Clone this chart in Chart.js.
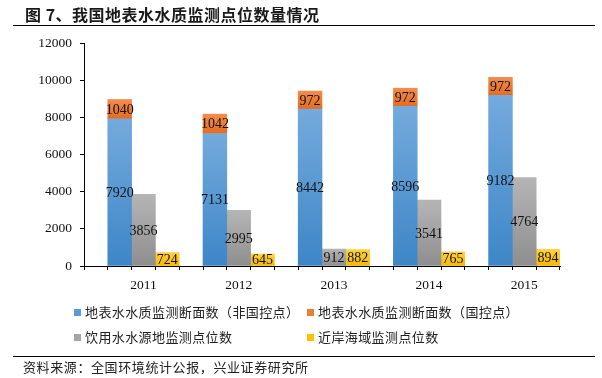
<!DOCTYPE html>
<html>
<head>
<meta charset="utf-8">
<script src="https://cdn.jsdelivr.net/npm/chart.js@4.4.1/dist/chart.umd.min.js"></script>
<style>
  body { margin: 0; background: #fff; }
  #wrap { position: relative; width: 602px; height: 378px; overflow: hidden; font-family: "Noto Sans CJK SC", sans-serif; }
  #chart { position: absolute; left: 0; top: 0; }
  .title { position: absolute; left: 25px; top: 5px; font-size: 16px; line-height: 18px; font-weight: bold; letter-spacing: 0.5px; color: #1a1a1a; white-space: nowrap; }
  .rule { position: absolute; left: 13px; width: 582px; height: 1.5px; background: #000; }
  .legendItem { position: absolute; font-size: 13px; line-height: 16px; letter-spacing: 0.4px; color: #222; white-space: nowrap; }
  .legendItem span { position: absolute; left: -11px; top: 5px; width: 7px; height: 7px; }
  .source { position: absolute; left: 23px; top: 359px; font-size: 13px; line-height: 16px; letter-spacing: 0.6px; color: #222; white-space: nowrap; }
</style>
</head>
<body>
<div id="wrap">
  <canvas id="chart" width="602" height="378"></canvas>
  <div class="title">图 7、我国地表水水质监测点位数量情况</div>
  <div class="rule" style="top:24.5px"></div>
  <div id="legend"></div>
  <div class="rule" style="top:355.5px"></div>
  <div class="source">资料来源：全国环境统计公报，兴业证券研究所</div>
</div>
<script>
'use strict';

// data
const years = ['2011', '2012', '2013', '2014', '2015'];
const surfaceNonNational = [7920, 7131, 8442, 8596, 9182];
const surfaceNational = [1040, 1042, 972, 972, 972];
const drinkingWater = [3856, 2995, 912, 3541, 4764];
const coastalSea = [724, 645, 882, 765, 894];
const yTicks = [0, 2000, 4000, 6000, 8000, 10000, 12000];

const seriesNames = [
  '地表水水质监测断面数（非国控点）',
  '地表水水质监测断面数（国控点）',
  '饮用水水源地监测点位数',
  '近岸海域监测点位数'
];

// each year takes 4 slots on the x axis: empty, surface, drinking, coastal
const slotsPerYear = 4;

function spread(values, slot) {
  let out = [];
  for (let i = 0; i < values.length * slotsPerYear; i++) out.push(null);
  for (let i = 0; i < values.length; i++) out[i * slotsPerYear + slot] = values[i];
  return out;
}

function buildLabels() {
  let out = [];
  for (let year of years) out.push('', '', year, '');
  return out;
}

// vertical gradient per bar, from its top to its bottom
function makeFill(topColor, bottomColor, below) {
  return function (ctx) {
    const chart = ctx.chart;
    const y = chart.scales.y;
    if (!y || ctx.type !== 'data' || ctx.raw == null) return bottomColor;
    const base = below ? (below[ctx.dataIndex] || 0) : 0;
    const top = y.getPixelForValue(base + ctx.raw);
    const bottom = y.getPixelForValue(base);
    if (!isFinite(top) || !isFinite(bottom) || top === bottom) return bottomColor;
    const g = chart.ctx.createLinearGradient(0, top, 0, bottom);
    g.addColorStop(0, topColor);
    g.addColorStop(1, bottomColor);
    return g;
  };
}

const blueData = spread(surfaceNonNational, 1);
const orangeData = spread(surfaceNational, 1);
const greyData = spread(drinkingWater, 2);
const yellowData = spread(coastalSea, 3);

const swatches = ['#5b9bd5', '#ed7d31', '#a5a5a5', '#ffc000'];

// value labels in the middle of each bar
const barLabels = {
  id: 'barLabels',
  afterDatasetsDraw(chart) {
    const ctx = chart.ctx;
    ctx.save();
    ctx.font = '14px "Liberation Serif", serif';
    ctx.fillStyle = '#111';
    ctx.textAlign = 'center';
    ctx.textBaseline = 'middle';
    chart.data.datasets.forEach(function (ds, i) {
      const meta = chart.getDatasetMeta(i);
      meta.data.forEach(function (bar, j) {
        const v = ds.data[j];
        if (v == null) return;
        ctx.fillText(String(v), bar.x, (bar.y + bar.base) / 2 + 1);
      });
    });
    ctx.restore();
  }
};

const tickFont = { family: '"Liberation Serif", serif', size: 13.5 };

new Chart(document.getElementById('chart'), {
  type: 'bar',
  data: {
    labels: buildLabels(),
    datasets: [
      { label: seriesNames[0], data: blueData, backgroundColor: makeFill('#74aadd', '#3d86c7', null) },
      { label: seriesNames[1], data: orangeData, backgroundColor: makeFill('#f28c4f', '#e56c1f', blueData) },
      { label: seriesNames[2], data: greyData, backgroundColor: makeFill('#b5b5b5', '#8e8e8e', null) },
      { label: seriesNames[3], data: yellowData, backgroundColor: makeFill('#ffd23f', '#f5b800', null) }
    ]
  },
  options: {
    responsive: false,
    animation: false,
    devicePixelRatio: 1,
    barPercentage: 1,
    categoryPercentage: 1,
    layout: { padding: { left: 0, right: 42, top: 43, bottom: 82 } },
    plugins: {
      legend: { display: false },
      tooltip: { enabled: false }
    },
    scales: {
      x: {
        stacked: true,
        offset: true,
        afterFit(scale) { scale.height = 30; },
        grid: { offset: true, drawOnChartArea: false, drawTicks: true, tickLength: 4, color: '#000' },
        border: { display: true, color: '#000', width: 1 },
        ticks: { autoSkip: false, maxRotation: 0, minRotation: 0, padding: 7, color: '#111', font: tickFont }
      },
      y: {
        stacked: true,
        min: 0,
        max: yTicks[yTicks.length - 1],
        afterFit(scale) { scale.width = 84; },
        afterBuildTicks(scale) { scale.ticks = yTicks.map(v => ({ value: v })); },
        grid: { drawOnChartArea: false, drawTicks: true, tickLength: 4, color: '#000' },
        border: { display: true, color: '#000', width: 1 },
        ticks: { padding: 8, color: '#111', font: tickFont, callback: v => String(v) }
      }
    }
  },
  plugins: [barLabels]
});

// legend in two aligned columns
const legendElem = document.getElementById('legend');
const legendPos = [[85, 304], [318, 304], [85, 329], [318, 329]];
seriesNames.forEach(function (name, i) {
  let item = document.createElement('div');
  item.className = 'legendItem';
  item.style.left = legendPos[i][0] + 'px';
  item.style.top = legendPos[i][1] + 'px';
  item.textContent = name;
  let box = document.createElement('span');
  box.style.background = swatches[i];
  item.appendChild(box);
  legendElem.appendChild(item);
});
</script>
</body>
</html>
